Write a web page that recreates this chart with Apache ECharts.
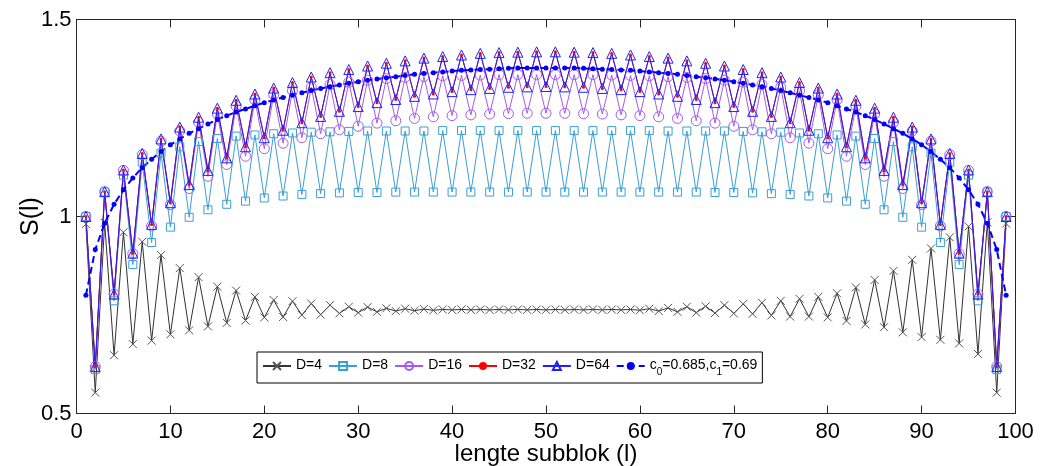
<!DOCTYPE html>
<html><head><meta charset="utf-8">
<script src="https://cdn.jsdelivr.net/npm/echarts@6/dist/echarts.min.js"></script>
<style>html,body{margin:0;padding:0;background:#fff}#c{width:1042px;height:466px}</style>
</head><body><div id="c"></div>
<script>
const L = [1,2,3,4,5,6,7,8,9,10,11,12,13,14,15,16,17,18,19,20,21,22,23,24,25,26,27,28,29,30,31,32,33,34,35,36,37,38,39,40,41,42,43,44,45,46,47,48,49,50,51,52,53,54,55,56,57,58,59,60,61,62,63,64,65,66,67,68,69,70,71,72,73,74,75,76,77,78,79,80,81,82,83,84,85,86,87,88,89,90,91,92,93,94,95,96,97,98,99];

const D4 = [0.981,0.553,0.984,0.648,0.960,0.676,0.936,0.685,0.902,0.701,
0.869,0.711,0.846,0.721,0.822,0.730,0.812,0.736,0.796,0.744,
0.788,0.745,0.785,0.750,0.779,0.751,0.775,0.754,0.771,0.756,
0.770,0.758,0.767,0.760,0.766,0.761,0.765,0.762,0.764,0.763,
0.764,0.763,0.764,0.763,0.764,0.763,0.764,0.763,0.764,0.763,
0.764,0.763,0.764,0.763,0.764,0.763,0.764,0.763,0.764,0.762,
0.766,0.760,0.768,0.758,0.771,0.756,0.772,0.755,0.775,0.754,
0.778,0.753,0.781,0.749,0.786,0.746,0.791,0.746,0.796,0.744,
0.805,0.735,0.820,0.726,0.839,0.719,0.862,0.706,0.890,0.694,
0.919,0.687,0.947,0.678,0.975,0.651,0.985,0.553,0.982];

const D8 = [1.000,0.612,1.062,0.786,1.105,0.878,1.138,0.934,1.161,0.973,
1.177,0.998,1.190,1.017,1.198,1.031,1.204,1.039,1.207,1.047,
1.210,1.052,1.212,1.056,1.214,1.058,1.215,1.060,1.216,1.061,
1.217,1.061,1.217,1.062,1.217,1.062,1.217,1.062,1.218,1.062,
1.218,1.062,1.218,1.062,1.218,1.062,1.218,1.062,1.218,1.062,
1.218,1.062,1.218,1.062,1.218,1.062,1.218,1.062,1.218,1.062,
1.218,1.062,1.217,1.062,1.217,1.062,1.217,1.061,1.217,1.061,
1.216,1.060,1.215,1.058,1.214,1.056,1.212,1.052,1.210,1.047,
1.207,1.039,1.204,1.031,1.198,1.017,1.190,0.998,1.177,0.973,
1.161,0.934,1.138,0.878,1.105,0.786,1.062,0.612,1.000];

const D16 = [1.000,0.619,1.063,0.803,1.117,0.906,1.157,0.976,1.191,1.030,
1.217,1.071,1.239,1.102,1.260,1.132,1.280,1.153,1.296,1.172,
1.309,1.186,1.319,1.200,1.328,1.210,1.335,1.220,1.341,1.229,
1.346,1.237,1.350,1.243,1.353,1.249,1.355,1.253,1.357,1.256,
1.358,1.258,1.359,1.260,1.360,1.261,1.360,1.262,1.360,1.262,
1.360,1.262,1.360,1.261,1.360,1.260,1.359,1.258,1.358,1.256,
1.357,1.253,1.355,1.249,1.353,1.243,1.350,1.237,1.346,1.229,
1.341,1.220,1.335,1.210,1.328,1.200,1.319,1.186,1.309,1.172,
1.296,1.153,1.280,1.132,1.260,1.102,1.239,1.071,1.217,1.030,
1.191,0.976,1.157,0.906,1.117,0.803,1.063,0.619,1.000];

const D32 = [1.000,0.619,1.063,0.803,1.118,0.907,1.160,0.980,1.197,1.035,
1.227,1.081,1.252,1.117,1.275,1.149,1.295,1.177,1.311,1.200,
1.326,1.219,1.340,1.238,1.354,1.254,1.365,1.267,1.373,1.279,
1.382,1.289,1.389,1.297,1.395,1.305,1.402,1.311,1.406,1.317,
1.410,1.322,1.414,1.325,1.416,1.328,1.417,1.329,1.418,1.330,
1.418,1.329,1.417,1.328,1.416,1.325,1.414,1.322,1.410,1.317,
1.406,1.311,1.402,1.305,1.395,1.297,1.389,1.289,1.382,1.279,
1.373,1.267,1.365,1.254,1.354,1.238,1.340,1.219,1.326,1.200,
1.311,1.177,1.295,1.149,1.275,1.117,1.252,1.081,1.227,1.035,
1.197,0.980,1.160,0.907,1.118,0.803,1.063,0.619,1.000];

const D64 = [1.000,0.619,1.063,0.803,1.118,0.907,1.160,0.980,1.197,1.035,
1.227,1.081,1.252,1.117,1.275,1.149,1.295,1.177,1.311,1.200,
1.326,1.219,1.340,1.238,1.354,1.254,1.365,1.267,1.373,1.279,
1.382,1.289,1.389,1.297,1.395,1.305,1.402,1.311,1.406,1.317,
1.410,1.322,1.414,1.325,1.416,1.328,1.417,1.329,1.418,1.330,
1.418,1.329,1.417,1.328,1.416,1.325,1.414,1.322,1.410,1.317,
1.406,1.311,1.402,1.305,1.395,1.297,1.389,1.289,1.382,1.279,
1.373,1.267,1.365,1.254,1.354,1.238,1.340,1.219,1.326,1.200,
1.311,1.177,1.295,1.149,1.275,1.117,1.252,1.081,1.227,1.035,
1.197,0.980,1.160,0.907,1.118,0.803,1.063,0.619,1.000];

const FIT = [0.800,0.916,0.983,1.031,1.068,1.098,1.124,1.145,1.165,1.182,
1.197,1.211,1.223,1.235,1.246,1.256,1.265,1.273,1.281,1.289,
1.296,1.302,1.308,1.314,1.320,1.325,1.329,1.334,1.338,1.342,
1.346,1.349,1.352,1.355,1.358,1.361,1.363,1.365,1.367,1.369,
1.371,1.372,1.373,1.374,1.375,1.376,1.377,1.377,1.377,1.377,
1.377,1.377,1.377,1.376,1.375,1.374,1.373,1.372,1.371,1.369,
1.367,1.365,1.363,1.361,1.358,1.355,1.352,1.349,1.346,1.342,
1.338,1.334,1.329,1.325,1.320,1.314,1.308,1.302,1.296,1.289,
1.281,1.273,1.265,1.256,1.246,1.235,1.223,1.211,1.197,1.182,
1.165,1.145,1.124,1.098,1.068,1.031,0.983,0.916,0.800];

const NAMES = ['D=4','D=8','D=16','D=32','D=64','c0=0.685,c1=0.69'];
const X_TICKS = [0,10,20,30,40,50,60,70,80,90,100];
const Y_TICKS = [0.5,1,1.5];

const FONT = 'Liberation Sans, Arial, Helvetica, sans-serif';
const pairs = v => v.map((y,i)=>[L[i], y]);
const CROSS = 'path://M0,0L10,10M10,0L0,10';

function lineSeries(name, data, color, symbol, size, hollow, extra) {
  const s = {
    name, type:'line', data: pairs(data), xAxisIndex:0, yAxisIndex:0,
    symbol, symbolSize:size, showSymbol:true, showAllSymbol:true,
    lineStyle:{color, width:1},
    itemStyle: hollow ? {color:'rgba(0,0,0,0)', borderColor:color, borderWidth:1}
                      : {color, borderColor:color, borderWidth:0},
    emphasis:{disabled:true}, animation:false
  };
  return Object.assign(s, extra||{});
}

const chart = echarts.init(document.getElementById('c'), null, {renderer:'canvas'});
const axisCommon = {
  type:'value', axisLine:{show:true, onZero:false, lineStyle:{color:'#262626', width:1}},
  axisTick:{show:true, inside:true, length:8, lineStyle:{color:'#262626', width:1}},
  splitLine:{show:false}
};
chart.setOption({
  backgroundColor:'#fff',
  animation:false,
  textStyle:{fontFamily:FONT},
  grid:{left:76.5, right:26.5, top:19.5, bottom:52.5, containLabel:false, outerBoundsMode:'none'},
  legend:{
    data:NAMES, left:257, top:352, orient:'horizontal',
    backgroundColor:'#fff', borderColor:'#000', borderWidth:1, borderRadius:0,
    padding:[6,5,6,5], itemGap:6, itemWidth:28, itemHeight:10,
    textStyle:{fontFamily:FONT, fontSize:14, color:'#000',
      rich:{
        n:{fontFamily:FONT, fontSize:14, color:'#000', lineHeight:16, verticalAlign:'top'},
        s:{fontFamily:FONT, fontSize:10, color:'#000', lineHeight:10, verticalAlign:'top', padding:[9,0,0,0]}
      }},
    formatter: function(name){
      if (name.charAt(0) === 'c') {
        return '{n|c}{s|0}{n|=0.685,c}{s|1}{n|=0.69}';
      }
      return '{n|' + name + '}';
    },
    selectedMode:false
  },
  xAxis:[
    Object.assign({}, axisCommon, {min:X_TICKS[0], max:X_TICKS[X_TICKS.length-1], interval:10, position:'bottom',
      axisLabel:{fontSize:22, color:'#000', fontFamily:FONT, margin:7},
      name:'lengte subblok (l)', nameLocation:'middle', nameGap:29, nameMoveOverlap:false,
      nameTextStyle:{fontSize:24, color:'#000', fontFamily:FONT}}),
    Object.assign({}, axisCommon, {min:X_TICKS[0], max:X_TICKS[X_TICKS.length-1], interval:10, position:'top',
      axisLabel:{show:false}})
  ],
  yAxis:[
    Object.assign({}, axisCommon, {min:Y_TICKS[0], max:Y_TICKS[Y_TICKS.length-1], interval:0.5, position:'left',
      axisLabel:{fontSize:22, color:'#000', fontFamily:FONT, margin:5},
      name:'S(l)', nameLocation:'middle', nameGap:33, nameRotate:90, nameMoveOverlap:false,
      nameTextStyle:{fontSize:25, color:'#000', fontFamily:FONT}}),
    Object.assign({}, axisCommon, {min:Y_TICKS[0], max:Y_TICKS[Y_TICKS.length-1], interval:0.5, position:'right',
      axisLabel:{show:false}})
  ],
  series:[
    lineSeries(NAMES[0], D4, '#333333', CROSS, 8, true, {itemStyle:{color:'rgba(0,0,0,0)', borderColor:'#555', borderWidth:1}}),
    lineSeries(NAMES[1], D8, '#3a9fd6', 'rect', 8, true),
    lineSeries(NAMES[2], D16, '#a45ce8', 'circle', 10, true),
    lineSeries(NAMES[3], D32, '#ff0000', 'circle', 3, false),
    lineSeries(NAMES[4], D64, '#2020ff', 'triangle', 10, true),
    lineSeries(NAMES[5], FIT, '#0000ff', 'circle', 5, false, {lineStyle:{color:'#0000ff', width:2, type:[7,4]}})
  ]
});
</script></body></html>
